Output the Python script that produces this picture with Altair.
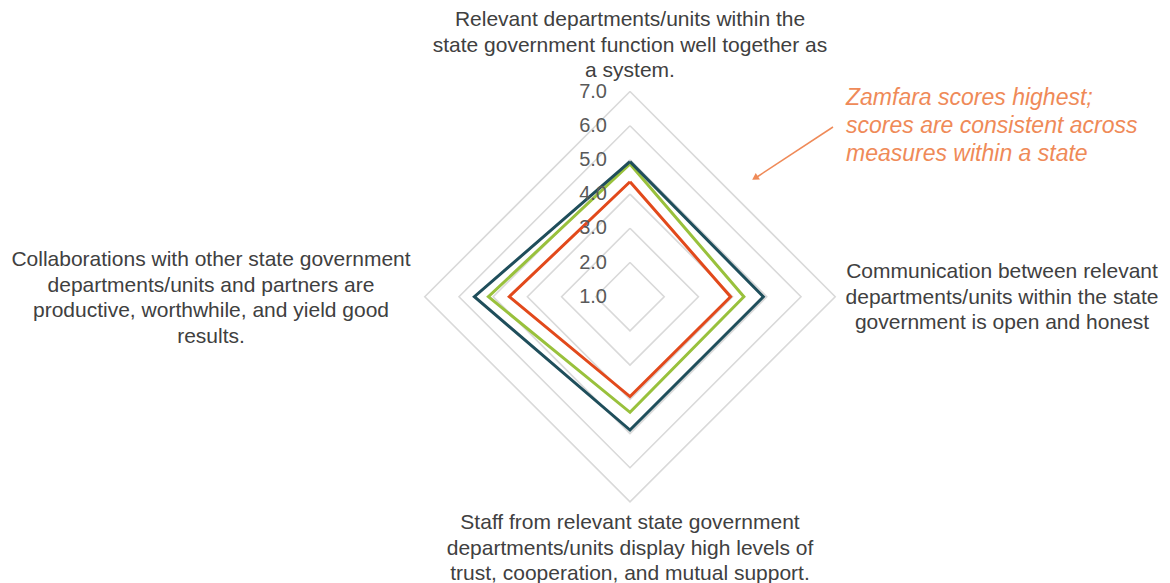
import altair as alt
import pandas as pd

# ---------------- data ----------------
categories = [
    "Relevant departments/units within the\nstate government function well together as\na system.",
    "Communication between relevant\ndepartments/units within the state\ngovernment is open and honest",
    "Staff from relevant state government\ndepartments/units display high levels of\ntrust, cooperation, and mutual support.",
    "Collaborations with other state government\ndepartments/units and partners are\nproductive, worthwhile, and yield good\nresults.",
]
series_names = ["State 3", "State 2", "Zamfara"]
state3_values = [4.36, 3.94, 3.92, 4.53]
state2_values = [4.88, 4.33, 4.38, 5.14]
zamfara_values = [4.95, 4.90, 4.90, 5.55]
series_values = [state3_values, state2_values, zamfara_values]
series_colors = ["#e2491b", "#99c13c", "#1f4e5b"]
tick_levels = [1, 2, 3, 4, 5, 6, 7]
tick_labels = ["1.0", "2.0", "3.0", "4.0", "5.0", "6.0", "7.0"]
annotation = ["Zamfara scores highest;", "scores are consistent across", "measures within a state"]

# ---------------- layout ----------------
W, H = 1170, 583
CX, CY, PPU = 630, 296.7, 34.2   # centre in px, px per unit
RMIN = 1.0
xs = alt.Scale(domain=[-CX / PPU, (W - CX) / PPU], nice=False, zero=False)
ys = alt.Scale(domain=[-(H - CY) / PPU, CY / PPU], nice=False, zero=False)
FONT = "Liberation Sans"

rows = []
for name, vals in zip(series_names, series_values):
    for i in range(len(categories) + 1):
        rows.append({"series": name, "idx": i, "value": vals[i % len(categories)]})
df = pd.DataFrame(rows)

grid_rows = []
for lv in tick_levels[1:]:
    for i in range(len(categories) + 1):
        grid_rows.append({"level": lv, "idx": i})
gdf = pd.DataFrame(grid_rows)

tdf = pd.DataFrame({"level": tick_levels, "label": tick_labels})


def xy(chart, field):
    return chart.transform_calculate(
        r=f"datum.{field} - {RMIN}",
        th="datum.idx * PI / 2",
    ).transform_calculate(
        px="datum.r * sin(datum.th)",
        py="datum.r * cos(datum.th)",
    )


grid = xy(alt.Chart(gdf), "level").mark_line(color="#d9d9d9", strokeWidth=1.6).encode(
    x=alt.X("px:Q", scale=xs, axis=None),
    y=alt.Y("py:Q", scale=ys, axis=None),
    detail="level:N",
    order="idx:Q",
)

lines = xy(alt.Chart(df), "value").mark_line(strokeWidth=3, strokeJoin="miter").encode(
    x=alt.X("px:Q", scale=xs, axis=None),
    y=alt.Y("py:Q", scale=ys, axis=None),
    color=alt.Color("series:N", scale=alt.Scale(domain=series_names, range=series_colors), legend=None,
                    sort=series_names),
    detail="series:N",
    order="idx:Q",
)

ticks = alt.Chart(tdf).transform_calculate(py=f"datum.level - {RMIN}", px="0").mark_text(
    align="right", baseline="middle", dx=-23, fontSize=20, font=FONT, color="#595959"
).encode(
    x=alt.X("px:Q", scale=xs, axis=None),
    y=alt.Y("py:Q", scale=ys, axis=None),
    text="label:N",
)

# (x centre, y of first line centre)
label_pos = [(630, 20), (1002, 272), (630, 523), (211, 260)]
label_layers = []
for text, (lx, ly) in zip(categories, label_pos):
    label_layers.append(
        alt.Chart(pd.DataFrame({"t": [text]})).mark_text(
            align="center", baseline="middle", fontSize=21, font=FONT, color="#404040",
            lineBreak="\n", lineHeight=25.5,
        ).encode(x=alt.value(lx), y=alt.value(ly), text="t:N")
    )

ann_text = alt.Chart(pd.DataFrame({"t": ["\n".join(annotation)]})).mark_text(
    align="left", baseline="middle", fontSize=23, font=FONT, fontStyle="italic", color="#ef8a58",
    lineBreak="\n", lineHeight=28,
).encode(x=alt.value(846), y=alt.value(98), text="t:N")

arrow_line = alt.Chart(pd.DataFrame({"a": [0]})).mark_rule(color="#ef8a58", strokeWidth=1.5).encode(
    x=alt.value(833), y=alt.value(127), x2=alt.value(757), y2=alt.value(177)
)
arrow_head = alt.Chart(pd.DataFrame({"a": [0]})).mark_point(
    shape="triangle-up", filled=True, color="#ef8a58", size=60, angle=237, opacity=1
).encode(x=alt.value(755), y=alt.value(178))

chart = alt.layer(grid, lines, ticks, *label_layers, ann_text, arrow_line, arrow_head).properties(
    width=W, height=H, padding=0, autosize="none", background="white"
).configure_view(stroke=None)

chart.save("out.html", embed_options={"renderer": "svg", "actions": False})
